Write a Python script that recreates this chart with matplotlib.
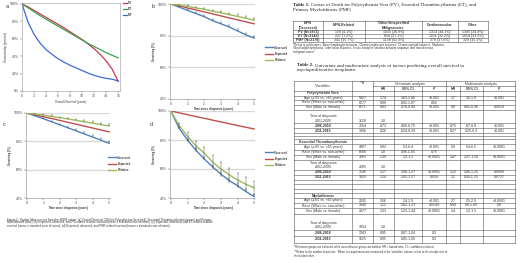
import numpy as np
import matplotlib
matplotlib.use("Agg")
import matplotlib.pyplot as plt

plt.rcParams['font.family'] = ['Liberation Sans', 'DejaVu Sans']

W, H = 520, 263

# ---- panel a : overall survival (%), by year
years_a = [0, 1, 2, 3, 4, 5, 6, 7, 8, 9, 10, 11, 12, 13, 14, 15, 16]
os_pv = [100, 96.5, 92.5, 88.5, 84.5, 80.5, 76.5, 72.5, 68, 63.5, 59, 54, 48.5, 42, 34.5, 25, 11]
os_et = [100, 95.5, 91, 86.5, 82.5, 78.5, 74.5, 70.5, 66.5, 62.5, 58.5, 54.5, 51, 47.5, 44, 41, 38]
os_mf = [100, 79, 65, 55, 47.5, 42, 37, 33, 29.5, 26.5, 23.5, 20.5, 18, 16, 14.5, 13.5, 11.5]
labels_a = ["PV", "ET", "MF"]

# ---- panels b-d : observed / expected / relative survival (%)
t = [0, 0.5, 1, 1.5, 2, 2.5, 3, 3.5, 4, 4.5, 5]
b_obs = [100, 98, 96, 94, 92, 89.5, 87.5, 85.5, 83, 80.5, 78.5]
b_exp = [100, 98.8, 97.5, 96.3, 95, 93.8, 92.5, 91.2, 90, 88.7, 87.5]
b_rel = [100, 99.3, 98.5, 97.5, 96.7, 95.5, 94.5, 93.3, 92.2, 91, 89.8]
b_obs_err = [0, 0.5, 0.6, 0.7, 0.8, 0.9, 1, 1.1, 1.2, 1.3, 1.4]
b_rel_err = [0, 0.5, 0.6, 0.7, 0.8, 0.9, 1, 1.1, 1.2, 1.3, 1.4]

c_obs = [100, 98, 96, 93.8, 91.7, 89.5, 87.4, 85.2, 83, 80.8, 78.6]
c_exp = [100, 98.7, 97.4, 96.1, 94.8, 93.4, 92.1, 90.7, 89.4, 88, 86.7]
c_rel = [100, 99.2, 98.5, 97.6, 96.7, 95.8, 94.8, 93.8, 92.8, 91.8, 90.8]
c_obs_err = [0, 0.5, 0.6, 0.7, 0.8, 0.9, 1, 1.1, 1.2, 1.3, 1.4]
c_rel_err = [0, 0.5, 0.6, 0.7, 0.8, 0.9, 1, 1.1, 1.2, 1.3, 1.4]

d_obs = [100, 88, 80, 73, 67, 61.5, 56.5, 52, 48.5, 44.5, 41]
d_exp = [100, 98.7, 97.5, 96.2, 95, 93.7, 92.5, 91.2, 90, 88.8, 87.6]
d_rel = [100, 90, 82.5, 76, 71, 65, 60, 56, 52.5, 49.5, 47]
d_obs_err = [0, 0.8, 1, 1.2, 1.4, 1.5, 1.6, 1.7, 1.8, 1.9, 2]
d_rel_err = [0, 2, 3, 3.5, 4, 4.5, 4.5, 5, 5, 5, 5]

series_names = ["Observed", "Expected", "Relative"]

# ---- table 1
t1_title = ["Causes of Death for Polycythemia Vera (PV), Essential Thrombocythemia (ET), and",
            "Primary Myelofibrosis (PMF)"]
t1_header = ["MPN\n(Deceased)", "MPN-Related", "*Other/Unspecified\nMalignancies", "Cardiovascular", "Other"]
t1_groups = ["PV (N=3853)", "ET (N=3142)", "PMF (N=2178)"]
t1_related = ["159 (4.1%)", "227 (7.2%)", "341 (15.7%)"]
t1_malig = ["1035 (26.9%)", "850 (27.1%)", "1138 (52.3%)"]
t1_cardio = ["1314 (34.1%)", "1011 (32.2%)", "370 (17.0%)"]
t1_other = ["1345 (34.9%)", "1054 (33.5%)", "329 (15.1%)"]
t1_notes = ["*Refers to solid tumors, 'Acute lymphocytic leukemia', 'Chronic lymphocytic leukemia', 'Chronic myeloid leukemia', 'Myeloma',",
            "'Non-Hodgkin lymphoma', 'other acute leukemia', 'In situ, benign or unknown behavior neoplasm' and 'miscellaneous",
            "malignant cancer'"]

# ---- table 2
t2_title = ["Univariate and multivariate analysis of factors predicting overall survival in",
            "myeloproliferative neoplasms"]
t2_sub = ["HR", "95% CI", "P", "HR", "95% CI", "P"]
YR = "Year of diagnosis\n2001-2005"
t2_rows = [
    ("Polycythemia Vera", []),
    ("Age (\u2265 65 vs. <65 years)", ["5427", "1.74", "1.63-1.86", "<0.001", "1.7", "1.6-1.8", "<0.001"]),
    ("Race (White vs. non-white)", ["8577", "0.99", "0.92-1.07", "0.92", "", "", ""]),
    ("Sex (Male vs. female)", ["6171", "0.83", "0.78-0.88", "<0.001", "0.9", "0.85-0.96", "0.0019"]),
    (YR, ["3628", "1.0"]),
    ("2006-2010", ["3554", "0.73", "0.69-0.79", "<0.001", "0.75", "0.7-0.8", "<0.001"]),
    ("2011-2015", ["3806", "0.26", "0.24-0.29", "<0.001", "0.27", "0.25-0.3", "<0.001"]),
    ("", []), ("", []),
    ("Essential Thrombocythemia", []),
    ("Age (\u2265 65 vs. <65 years)", ["4887", "5.82", "5.3-6.4", "<0.001", "5.9", "5.4-6.5", "<0.0001"]),
    ("Race (White vs. non-white)", ["6588", "1.0", "0.96-1.05", "0.76", "", "", ""]),
    ("Sex (Male vs. female)", ["3663", "1.39", "1.3-1.5", "<0.0001", "1.47", "1.37-1.58", "<0.0001"]),
    (YR, ["2685", "1.0"]),
    ("2006-2010", ["3136", "1.17", "1.08-1.27", "<0.0001", "1.15", "1.06-1.25", "0.0009"]),
    ("2011-2015", ["3325", "1.14", "1.02-1.27", "0.018", "1.1", "0.99-1.23", "0.0727"]),
    ("", []), ("", []), ("", []),
    ("Myelofibrosis", []),
    ("Age (\u2265 65 vs. <65 years)", ["2595", "2.66", "2.4-2.9", "<0.001", "2.7", "2.5-2.9", "<0.0001"]),
    ("Race (White vs. non-white)", ["3040", "1.12", "1.02-1.23", "0.0149", "0.99", "0.9-1.09", "0.9"]),
    ("Sex (Male vs. female)", ["2377", "1.33", "1.23-1.44", "<0.0001", "1.4", "1.3-1.5", "<0.0001"]),
    (YR, ["1054", "1.0"]),
    ("2006-2010", ["1343", "0.95", "0.87-1.04", "0.3"]),
    ("2011-2015", ["1625", "0.95", "0.85-1.05", "0.3"]),
]
t2_notes = ["*Reference groups are italicized, while non-reference groups are bolded. HR = hazard ratio, CI = confidence interval",
            "**Refers to the number of patients.  When two populations are mentioned in the 'variables' column, refers to the sample size of",
            "the bolded value."]

caption = ["Figure 1.  Kaplan-Meier curves from the SEER cohort. (a) Overall Survival (OS) for Polycythemia Vera (red), Essential Thrombocythemia (green) and Primary",
           "Myelofibrosis (blue). (b) Expected, observed, and PV-related relative survival (mean \u00b1 standard error of mean). (c) Expected, observed, and ET-related relative",
           "survival (mean \u00b1 standard error of mean). (d) Expected, observed, and PMF-related survival (mean \u00b1 standard error of mean)."]

BLUE, RED, GREEN = '#4f81bd', '#c0504d', '#9bbb59'
TXT = '#333333'

fig = plt.figure(figsize=(W / 100, H / 100), dpi=100)


def box(l, t_, r, b):
    # axes from pixel edges (left, top, right, bottom)
    return fig.add_axes([l / W, 1 - b / H, (r - l) / W, (b - t_) / H])


# ===== panel a
ax = box(22, 3, 120, 91)
for ys, col, lab in zip([os_pv, os_et, os_mf], ['#c8384e', '#3aa04a', '#3b6ad6'], labels_a):
    ax.plot(years_a, ys, color=col, lw=0.9, label=lab)
ax.set_xlim(0, 16.3)
ax.set_ylim(0, 101)
ax.set_xticks(range(0, 17, 2))
ax.set_yticks(range(0, 101, 20))
ax.set_yticklabels([f"{v}%" for v in range(0, 101, 20)])
ax.tick_params(labelsize=2.5, length=1.2, width=0.3, pad=0.8, colors='#444444')
for s in ax.spines.values():
    s.set_color('#999999')
    s.set_linewidth(0.4)
ax.set_xlabel("Overall Survival (years)", fontsize=2.2, labelpad=1.5, color=TXT)
ax.set_ylabel("Survivorship (percent)", fontsize=2.2, labelpad=1.5, color=TXT)
ax.legend(loc='upper left', bbox_to_anchor=(122.5 / W, 1 - 1 / H), bbox_transform=fig.transFigure,
          fontsize=2.3, frameon=False, handlelength=1.3, handletextpad=0.4, labelspacing=0.7,
          borderpad=0, borderaxespad=0)


def excel_panel(rect, obs, exp, rel, obs_err, rel_err, leg_xy, sym=False):
    ax = box(*rect)
    ax.set_xlim(-0.05, 5.05)
    ax.set_ylim(40, 100)
    for g in [60, 80, 100]:
        ax.axhline(g, color='#d9d9d9', lw=1.0, zorder=0)
    ax.plot(t, obs, color=BLUE, lw=1.0, label=series_names[0])
    ax.plot(t, exp, color=RED, lw=1.0, label=series_names[1])
    ax.plot(t, rel, color=GREEN, lw=1.0, label=series_names[2])
    for ys, es, two in [(obs, obs_err, False), (rel, rel_err, sym)]:
        x = np.array(t[1:])
        y = np.array(ys[1:])
        e = np.array(es[1:])
        lo = y - e if two else y
        ax.vlines(x, lo, y + e, color='#555555', lw=0.35, zorder=3)
        ax.plot(x, y + e, ls='none', marker='_', ms=1.8, mew=0.35, color='#555555', zorder=3)
        if two:
            ax.plot(x, lo, ls='none', marker='_', ms=1.8, mew=0.35, color='#555555', zorder=3)
    ax.set_xticks(range(0, 6))
    ax.set_yticks([40, 60, 80, 100])
    ax.set_yticklabels(["40%", "60%", "80%", "100%"])
    ax.tick_params(labelsize=2.5, length=1.2, width=0.3, pad=0.8, colors='#444444')
    for side in ['top', 'right']:
        ax.spines[side].set_visible(False)
    for side in ['left', 'bottom']:
        ax.spines[side].set_color('#888888')
        ax.spines[side].set_linewidth(0.4)
    ax.set_xlabel("Time since diagnosis (years)", fontsize=2.1, fontweight='bold', labelpad=1.2, color=TXT)
    ax.set_ylabel("Surviving (%)", fontsize=2.1, fontweight='bold', labelpad=1.5, color=TXT)
    ax.legend(loc='center left', bbox_to_anchor=(leg_xy[0] / W, 1 - leg_xy[1] / H),
              bbox_transform=fig.transFigure, fontsize=2.3, frameon=False, handlelength=2.4,
              handletextpad=0.5, labelspacing=0.75, borderpad=0, borderaxespad=0)
    return ax


excel_panel((170, 4, 255, 99), b_obs, b_exp, b_rel, b_obs_err, b_rel_err, (265, 54))
excel_panel((26, 113, 110, 198), c_obs, c_exp, c_rel, c_obs_err, c_rel_err, (108, 164))
excel_panel((170, 111, 255, 198), d_obs, d_exp, d_rel, d_obs_err, d_rel_err, (265, 159), sym=True)

# ===== overlay for letters, caption and tables
ov = fig.add_axes([0, 0, 1, 1])
ov.set_xlim(0, W)
ov.set_ylim(H, 0)
ov.axis('off')
ov.patch.set_visible(False)
renderer = fig.canvas.get_renderer()


def title(x, y, head, lines):
    # bold "Table n." followed by the title text on the same line
    kw = dict(fontsize=3.5, family='Liberation Serif', va='center', color='#222222')
    h = ov.text(x, y, head, fontweight='bold', **kw)
    x_end = ov.transData.inverted().transform((h.get_window_extent(renderer).x1, 0))[0]
    ov.text(x_end + 1.2, y, lines[0], **kw)
    ov.text(x, y + 4.6, lines[1], **kw)


for lx, ly, s in [(7, 6, 'a'), (153, 7, 'b'), (4, 125, 'c'), (151, 125, 'd')]:
    ov.text(lx, ly, s, fontsize=4, color=TXT, ha='center', va='center')

for i, line in enumerate(caption):
    ov.text(7, 219.5 + i * 3, line, fontsize=2.1, color=TXT, va='center', ha='left')

LINE = dict(color='#555555', lw=0.4)

# --- table 1
title(293, 5, "Table 1.", t1_title)
t1_cols = [293, 323, 365, 422, 458, 488]
t1_rows = [21, 30, 34, 38, 42]
for y in t1_rows:
    ov.plot([t1_cols[0], t1_cols[-1]], [y, y], **LINE)
for x in t1_cols:
    ov.plot([x, x], [t1_rows[0], t1_rows[-1]], **LINE)
for j, h in enumerate(t1_header):
    ov.text((t1_cols[j] + t1_cols[j + 1]) / 2, (t1_rows[0] + t1_rows[1]) / 2, h, fontsize=2.5,
            fontweight='bold', ha='center', va='center', color=TXT, linespacing=1.1)
for i in range(3):
    yc = (t1_rows[i + 1] + t1_rows[i + 2]) / 2
    vals = [t1_groups[i], t1_related[i], t1_malig[i], t1_cardio[i], t1_other[i]]
    for j, v in enumerate(vals):
        ov.text((t1_cols[j] + t1_cols[j + 1]) / 2, yc, v, fontsize=2.5, ha='center', va='center',
                color=TXT, fontweight='bold' if j == 0 else 'normal')
for i, line in enumerate(t1_notes):
    ov.text(293, 44.8 + i * 3.4, line, fontsize=2.0, va='center', color=TXT)

# --- table 2
title(297, 65.5, "Table 2.", t2_title)

t2_cols = [294, 352, 373, 394, 422, 446, 460, 483, 515]
t2_top, t2_mid, t2_hdr = 81, 86, 91
t2_heights = [4.5, 4.5, 5, 4.5, 13.8, 5, 5, 2.9, 2.8,
              5, 5.5, 5.3, 5, 10, 5, 5, 4.5, 4.5, 4.5,
              4.7, 5, 5, 6, 16, 6, 7]
edges = [t2_hdr] + list(t2_hdr + np.cumsum(t2_heights))
t2_bot = edges[-1]

for y in [t2_top, t2_hdr] + edges[1:]:
    ov.plot([t2_cols[0], t2_cols[-1]], [y, y], **LINE)
ov.plot([t2_cols[2], t2_cols[-1]], [t2_mid, t2_mid], **LINE)
for k, x in enumerate(t2_cols):
    top = t2_mid if k in (3, 4, 6, 7) else t2_top
    ov.plot([x, x], [top, t2_bot], **LINE)

ov.text((t2_cols[0] + t2_cols[1]) / 2, t2_mid, "*Variables", fontsize=2.5, ha='center', va='center', color=TXT)
ov.text((t2_cols[1] + t2_cols[2]) / 2, 83.5, "**N", fontsize=2.5, ha='center', va='center', color=TXT)
ov.text((t2_cols[2] + t2_cols[5]) / 2, 83.5, "Univariate analysis", fontsize=2.5, ha='center', va='center', color=TXT)
ov.text((t2_cols[5] + t2_cols[8]) / 2, 83.5, "Multivariate analysis", fontsize=2.5, ha='center', va='center', color=TXT)
for j, s in enumerate(t2_sub):
    ov.text((t2_cols[j + 2] + t2_cols[j + 3]) / 2, 88.5, s, fontsize=2.5, ha='center', va='center',
            color=TXT, fontweight='bold', style='italic' if s == 'P' else 'normal')

for (lab, vals), y0, y1 in zip(t2_rows, edges[:-1], edges[1:]):
    if lab == YR:
        yv = y1 - 2.6
        ov.text((t2_cols[0] + t2_cols[1]) / 2, yv - 4.2, "Year of diagnosis", fontsize=2.5,
                ha='center', va='center', color=TXT)
        ov.text((t2_cols[0] + t2_cols[1]) / 2, yv, "2001-2005", fontsize=2.5, style='italic',
                ha='center', va='center', color=TXT)
    else:
        yv = (y0 + y1) / 2
        bold = lab.startswith("20") or not vals
        ov.text((t2_cols[0] + t2_cols[1]) / 2, yv, lab, fontsize=2.5, ha='center', va='center',
                color=TXT, fontweight='bold' if bold else 'normal')
    for j, v in enumerate(vals):
        ov.text((t2_cols[j + 1] + t2_cols[j + 2]) / 2, yv, v, fontsize=2.5, ha='center', va='center', color=TXT)

for i, line in enumerate(t2_notes):
    ov.text(294, 247.3 + i * 4.2, line, fontsize=2.0, va='center', color=TXT)

fig.savefig("out.png", dpi=100)
